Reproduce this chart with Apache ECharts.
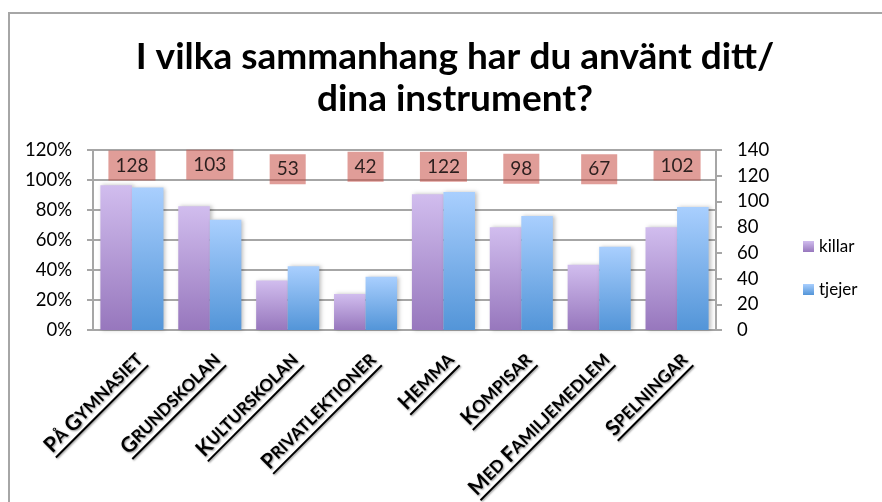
<!DOCTYPE html>
<html>
<head>
<meta charset="utf-8">
<script src="https://cdn.jsdelivr.net/npm/echarts@6/dist/echarts.min.js"></script>
<style>
  html, body { margin: 0; padding: 0; background: #fff; }
  #main { width: 882px; height: 502px; position: relative; }
  .frame { position: absolute; left: 8px; top: 12px; right: -4px; bottom: -4px; border-left: 2px solid #a6a6a6; border-top: 2px solid #a6a6a6; pointer-events: none; }
</style>
</head>
<body>
<div id="main"></div>
<script>
// kategorier på x-axeln
const categories = ['På Gymnasiet', 'Grundskolan', 'Kulturskolan', 'Privatlektioner', 'Hemma', 'Kompisar', 'Med familjemedlem', 'Spelningar']
// andel i procent
const killar = [96.5, 82.5, 33, 24, 90.5, 68.5, 43.5, 68.5]
const tjejer = [95, 73.5, 42.5, 35.5, 92, 76, 55.5, 82]
// antal svar (rutorna ovanför staplarna)
const antal = [128, 103, 53, 42, 122, 98, 67, 102]
// höjd på rutorna mot högra axeln
const antalNiva = [128, 128.5, 125, 127, 127, 125.5, 125, 128]

const myChart = echarts.init(document.getElementById('main'))
const font = 'Lato'
const bigSize = 21
const smallSize = 17

// mäter textbredd så att understrykningen blir lika lång som texten
const ctx = document.createElement('canvas').getContext('2d')
function textW(str, size) {
  ctx.font = 'bold ' + size + 'px ' + font
  return ctx.measureText(str).width
}

// kapitäler: stor första bokstav, resten små versaler
function smallCaps(text) {
  let w = 0
  const words = text.split(' ')
  const parts = words.map((word, i) => {
    const first = word[0].toUpperCase()
    const rest = word.slice(1).toUpperCase() + (i < words.length - 1 ? ' ' : '')
    w += textW(first, bigSize) + textW(rest, smallSize)
    return { first, rest }
  })
  return { parts, w }
}

const shadow = { textShadowColor: 'rgba(0,0,0,0.45)', textShadowBlur: 2, textShadowOffsetX: 1, textShadowOffsetY: 1 }
const rich = {
  b: { fontFamily: font, fontWeight: 'bold', fontSize: bigSize, lineHeight: 22, color: '#000', ...shadow },
  s: { fontFamily: font, fontWeight: 'bold', fontSize: smallSize, lineHeight: 22, color: '#000', ...shadow }
}
// understrykning, en per etikett
categories.forEach((c, i) => {
  rich['u' + i] = { width: smallCaps(c).w, height: 2, backgroundColor: '#000', shadowColor: 'rgba(0,0,0,0.4)', shadowBlur: 2, shadowOffsetX: 1, shadowOffsetY: 1 }
})

function grad(top, bottom) {
  return new echarts.graphic.LinearGradient(0, 0, 0, 1, [
    { offset: 0, color: top },
    { offset: 1, color: bottom }
  ])
}

const option = {
  animation: false,
  textStyle: { fontFamily: font },
  title: {
    text: 'I vilka sammanhang har du använt ditt/\ndina instrument?',
    left: 450,
    textAlign: 'center',
    top: 31,
    textStyle: { fontFamily: font, fontWeight: 'bold', fontSize: 37, lineHeight: 42, color: '#000' }
  },
  legend: {
    orient: 'vertical',
    left: 798,
    top: 233,
    itemGap: 26,
    itemWidth: 11,
    itemHeight: 11,
    icon: 'rect',
    data: ['killar', 'tjejer'],
    textStyle: { fontFamily: font, fontSize: 17, color: '#000' }
  },
  grid: { left: 93, right: 166, top: 150, bottom: 172, outerBoundsMode: 'none' },
  xAxis: {
    type: 'category',
    data: categories,
    axisLine: { lineStyle: { color: '#a6a6a6', width: 2 } },
    axisTick: { show: false },
    axisLabel: {
      interval: 0,
      rotate: 45,
      margin: 19,
      verticalAlign: 'top',
      formatter: (v, i) => {
        const sc = smallCaps(v)
        return sc.parts.map(p => '{b|' + p.first + '}{s|' + p.rest + '}').join('') + '\n{u' + i + '|}'
      },
      rich: rich
    }
  },
  yAxis: [
    {
      type: 'value',
      min: 0,
      max: 120,
      interval: 20,
      axisLine: { show: true, lineStyle: { color: '#a6a6a6', width: 2 } },
      axisTick: { show: true, length: 6, lineStyle: { color: '#a6a6a6', width: 2 } },
      axisLabel: { formatter: '{value}%', fontFamily: font, fontSize: 18.5, color: '#000', margin: 21 },
      splitLine: { lineStyle: { color: '#a6a6a6', width: 2 } }
    },
    {
      type: 'value',
      min: 0,
      max: 140,
      interval: 20,
      position: 'right',
      axisLine: { show: true, lineStyle: { color: '#a6a6a6', width: 2 } },
      axisTick: { show: true, length: 6, lineStyle: { color: '#a6a6a6', width: 2 } },
      axisLabel: { fontFamily: font, fontSize: 18.5, color: '#000', margin: 21 },
      splitLine: { show: false }
    }
  ],
  series: [
    {
      name: 'killar',
      type: 'bar',
      barGap: '0%',
      barCategoryGap: '19%',
      data: killar,
      itemStyle: { color: grad('#d1bdee', '#9777bd'), shadowColor: 'rgba(0,0,0,0.25)', shadowBlur: 4, shadowOffsetX: 2 }
    },
    {
      name: 'tjejer',
      type: 'bar',
      data: tjejer,
      itemStyle: { color: grad('#a9cffe', '#5395d8'), shadowColor: 'rgba(0,0,0,0.25)', shadowBlur: 4, shadowOffsetX: 2 }
    },
    {
      name: 'antal',
      type: 'scatter',
      yAxisIndex: 1,
      symbolSize: 0,
      z: 5,
      data: antalNiva,
      label: {
        show: true,
        position: 'inside',
        formatter: p => antal[p.dataIndex],
        fontFamily: font,
        fontSize: 19,
        color: '#000',
        backgroundColor: 'rgba(200,80,72,0.7)',
        padding: [6, 7, 5, 7]
      }
    }
  ]
}

myChart.setOption(option)
</script>
<div class="frame"></div>
</body>
</html>
